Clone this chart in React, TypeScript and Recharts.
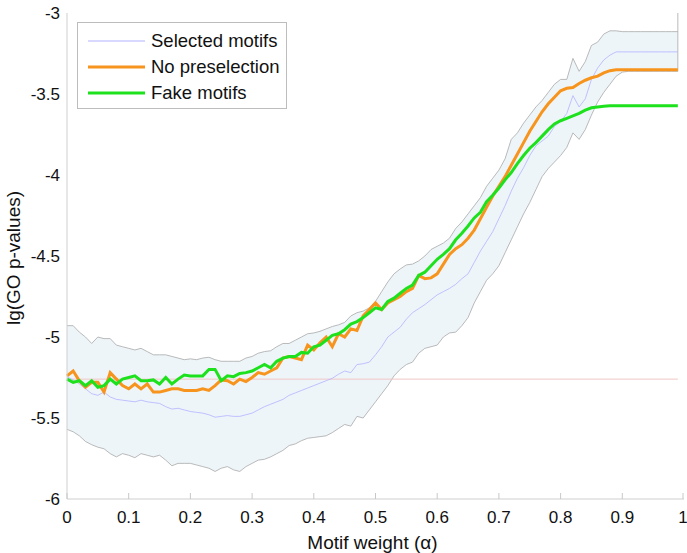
import React from "react";
import {
  ComposedChart,
  Area,
  Line,
  XAxis,
  YAxis,
  ReferenceLine,
  Legend,
  Label,
} from "recharts";

// motif weight alpha, 0.00 .. 0.99
const alpha = [
  0, 0.01, 0.02, 0.03, 0.04, 0.05, 0.06, 0.07, 0.08, 0.09,
  0.1, 0.11, 0.12, 0.13, 0.14, 0.15, 0.16, 0.17, 0.18, 0.19,
  0.2, 0.21, 0.22, 0.23, 0.24, 0.25, 0.26, 0.27, 0.28, 0.29,
  0.3, 0.31, 0.32, 0.33, 0.34, 0.35, 0.36, 0.37, 0.38, 0.39,
  0.4, 0.41, 0.42, 0.43, 0.44, 0.45, 0.46, 0.47, 0.48, 0.49,
  0.5, 0.51, 0.52, 0.53, 0.54, 0.55, 0.56, 0.57, 0.58, 0.59,
  0.6, 0.61, 0.62, 0.63, 0.64, 0.65, 0.66, 0.67, 0.68, 0.69,
  0.7, 0.71, 0.72, 0.73, 0.74, 0.75, 0.76, 0.77, 0.78, 0.79,
  0.8, 0.81, 0.82, 0.83, 0.84, 0.85, 0.86, 0.87, 0.88, 0.89,
  0.9, 0.91, 0.92, 0.93, 0.94, 0.95, 0.96, 0.97, 0.98, 0.99,
];

// selected motifs: upper / lower envelope and mean
const upper = [
  -4.93, -4.93, -4.97, -5.0, -5.04, -5.0, -5.01, -5.01, -5.05, -5.06,
  -5.07, -5.08, -5.07, -5.09, -5.11, -5.11, -5.11, -5.12, -5.13, -5.14,
  -5.135, -5.14, -5.13, -5.125, -5.14, -5.15, -5.15, -5.15, -5.15, -5.13,
  -5.12, -5.1, -5.09, -5.085, -5.06, -5.04, -5.04, -5.02, -5.0, -4.98,
  -4.975, -4.965, -4.95, -4.935, -4.925, -4.91, -4.87, -4.85, -4.84, -4.82,
  -4.78, -4.72, -4.66, -4.61, -4.58, -4.555, -4.55, -4.53, -4.5, -4.46,
  -4.44, -4.42, -4.39, -4.33, -4.29, -4.24, -4.19, -4.14, -4.07, -4.02,
  -3.97, -3.9, -3.78, -3.74, -3.68, -3.63, -3.58, -3.54, -3.49, -3.44,
  -3.41, -3.41, -3.28, -3.36, -3.3, -3.2, -3.18, -3.13, -3.11, -3.11,
  -3.115, -3.115, -3.115, -3.115, -3.115, -3.115, -3.115, -3.115, -3.115, -3.115,
];

const lower = [
  -5.57, -5.585, -5.61, -5.645, -5.665, -5.68, -5.69, -5.72, -5.74, -5.72,
  -5.73, -5.745, -5.72, -5.73, -5.74, -5.73, -5.76, -5.795, -5.78, -5.78,
  -5.78, -5.79, -5.8, -5.81, -5.83, -5.81, -5.8, -5.82, -5.83, -5.8,
  -5.78, -5.76, -5.755, -5.74, -5.72, -5.7, -5.67, -5.66, -5.64, -5.625,
  -5.62, -5.615, -5.61, -5.59, -5.565, -5.54, -5.55, -5.49, -5.5, -5.45,
  -5.4, -5.35, -5.3, -5.24, -5.2, -5.17, -5.155, -5.1, -5.07, -5.06,
  -5.05, -5.0, -4.975, -4.97, -4.93, -4.88, -4.79, -4.72, -4.65, -4.61,
  -4.56, -4.48, -4.4, -4.32, -4.24, -4.17, -4.09, -4.01, -3.96, -3.92,
  -3.88, -3.83, -3.74, -3.78, -3.72, -3.63, -3.55, -3.49, -3.44, -3.39,
  -3.365, -3.36, -3.36, -3.36, -3.36, -3.36, -3.36, -3.36, -3.36, -3.36,
];

const selected = [
  -5.245, -5.265, -5.29, -5.32, -5.35, -5.36, -5.34, -5.37, -5.385, -5.39,
  -5.395, -5.4, -5.39, -5.4, -5.405, -5.41, -5.43, -5.445, -5.44, -5.45,
  -5.46, -5.465, -5.47, -5.48, -5.495, -5.49, -5.485, -5.49, -5.49, -5.48,
  -5.47, -5.45, -5.43, -5.415, -5.4, -5.385, -5.36, -5.345, -5.33, -5.315,
  -5.3, -5.285, -5.27, -5.255, -5.23, -5.21, -5.22, -5.17, -5.165, -5.155,
  -5.11, -5.06, -5.0, -4.97, -4.94, -4.89, -4.85, -4.825, -4.8, -4.77,
  -4.74, -4.72, -4.7, -4.675, -4.64, -4.61, -4.54, -4.47, -4.41, -4.35,
  -4.27, -4.19, -4.1, -4.02, -3.955, -3.88, -3.82, -3.79, -3.76, -3.7,
  -3.67, -3.62, -3.51, -3.58, -3.53, -3.41, -3.34, -3.29, -3.26, -3.24,
  -3.24, -3.24, -3.24, -3.24, -3.24, -3.24, -3.24, -3.24, -3.24, -3.24,
];

const noPreselection = [
  -5.24, -5.21, -5.27, -5.31, -5.28, -5.28, -5.34, -5.22, -5.26, -5.3,
  -5.32, -5.29, -5.32, -5.29, -5.34, -5.34, -5.33, -5.32, -5.32, -5.33,
  -5.33, -5.33, -5.32, -5.33, -5.3, -5.265, -5.27, -5.29, -5.26, -5.275,
  -5.25, -5.22, -5.23, -5.21, -5.19, -5.13, -5.12, -5.13, -5.14, -5.05,
  -5.08, -5.035, -5.0, -5.06, -4.98, -5.0, -4.95, -4.96, -4.87, -4.83,
  -4.79, -4.83, -4.79, -4.77, -4.75, -4.72, -4.7, -4.62, -4.64, -4.635,
  -4.61, -4.55, -4.49, -4.455, -4.43, -4.39, -4.34, -4.27, -4.2, -4.13,
  -4.07, -4.01, -3.94, -3.87, -3.8, -3.73, -3.67, -3.61, -3.56, -3.52,
  -3.48, -3.465, -3.46, -3.435, -3.415, -3.4, -3.39, -3.37, -3.356, -3.35,
  -3.35, -3.35, -3.35, -3.35, -3.35, -3.35, -3.35, -3.35, -3.35, -3.35,
];

const fakeMotifs = [
  -5.26, -5.28, -5.27, -5.3, -5.27, -5.31, -5.3, -5.26, -5.29, -5.26,
  -5.25, -5.24, -5.27, -5.27, -5.265, -5.29, -5.25, -5.29, -5.26, -5.235,
  -5.24, -5.24, -5.24, -5.2, -5.2, -5.27, -5.24, -5.245, -5.225, -5.22,
  -5.21, -5.19, -5.17, -5.19, -5.15, -5.13, -5.12, -5.12, -5.095, -5.1,
  -5.06, -5.05, -5.02, -4.99, -4.98, -4.955, -4.92, -4.905, -4.88, -4.85,
  -4.82, -4.83, -4.78, -4.76, -4.73, -4.7, -4.68, -4.62, -4.6, -4.56,
  -4.52, -4.49, -4.455, -4.4, -4.36, -4.315, -4.265, -4.23, -4.165, -4.125,
  -4.08, -4.03, -3.985, -3.93, -3.88, -3.835, -3.8, -3.76, -3.72, -3.685,
  -3.665, -3.65, -3.635, -3.62, -3.6, -3.585, -3.58, -3.575, -3.572, -3.572,
  -3.572, -3.572, -3.572, -3.572, -3.572, -3.572, -3.572, -3.572, -3.572, -3.572,
];

const baselineLevel = -5.26;

const xTicks = [0, 0.1, 0.2, 0.3, 0.4, 0.5, 0.6, 0.7, 0.8, 0.9, 1];
const xTickLabels = ["0", "0.1", "0.2", "0.3", "0.4", "0.5", "0.6", "0.7", "0.8", "0.9", "1"];
const yTicks = [-6, -5.5, -5, -4.5, -4, -3.5, -3];
const yTickLabels = ["-6", "-5.5", "-5", "-4.5", "-4", "-3.5", "-3"];

const legendNames = ["Selected motifs", "No preselection", "Fake motifs"];
const legendColors = ["#b3b3ff", "#f7941d", "#1ee11e"];
const legendWidths = [1, 3, 3];

const FONT = "'Liberation Sans', Arial, Helvetica, sans-serif";

const data = alpha.map((a, i) => ({
  alpha: a,
  band: [lower[i], upper[i]],
  selected: selected[i],
  noPre: noPreselection[i],
  fake: fakeMotifs[i],
}));

const XTick = (props: any) => {
  const { x, y, payload } = props;
  const idx = xTicks.indexOf(payload.value);
  return (
    <g>
      <line x1={x} y1={y} x2={x} y2={y - 6} stroke="#c8c8c8" />
      <text x={x} y={y + 12} dy="0.71em" textAnchor="middle" fontSize={17} fontFamily={FONT} fill="#111">
        {xTickLabels[idx]}
      </text>
    </g>
  );
};

const YTick = (props: any) => {
  const { x, y, payload } = props;
  const idx = yTicks.indexOf(payload.value);
  return (
    <text x={x - 7} y={y} dominantBaseline="central" textAnchor="end" fontSize={17} fontFamily={FONT} fill="#111">
      {yTickLabels[idx]}
    </text>
  );
};

const renderLegend = () => (
  <div
    style={{
      border: "1px solid #bdbdbd",
      background: "#fff",
      width: 210,
      height: 87,
      paddingTop: 5,
      paddingLeft: 10,
      boxSizing: "border-box",
      fontFamily: FONT,
      fontSize: 18.5,
      color: "#111",
      whiteSpace: "nowrap",
    }}
  >
    {legendNames.map((name, i) => (
      <div key={name} style={{ display: "flex", alignItems: "center", height: 26 }}>
        <svg width={57} height={6} style={{ marginRight: 6, flexShrink: 0 }}>
          <line x1={0} y1={3} x2={57} y2={3} stroke={legendColors[i]} strokeWidth={legendWidths[i]} />
        </svg>
        <span>{name}</span>
      </div>
    ))}
  </div>
);

const App = () => {
  return (
    <div style={{ position: "absolute", left: 0, top: 0, background: "#fff" }}>
      <ComposedChart
        width={687}
        height={553}
        data={data}
        margin={{ top: 13, right: 3, bottom: 0, left: 0 }}
      >
        <XAxis
          dataKey="alpha"
          type="number"
          domain={[0, 1]}
          ticks={xTicks}
          height={54}
          tickSize={0}
          tickMargin={0}
          tick={<XTick />}
          axisLine={{ stroke: "#cfcfcf" }}
          tickLine={false}
        >
          <Label
            content={({ viewBox }: any) => (
              <text
                x={viewBox.x + viewBox.width / 2 - 3}
                y={viewBox.y + 43}
                textAnchor="middle"
                dominantBaseline="central"
                fontSize={19}
                fontFamily={FONT}
                fill="#111"
              >
                Motif weight (α)
              </text>
            )}
          />
        </XAxis>
        <YAxis
          type="number"
          domain={[-6, -3]}
          ticks={yTicks}
          width={67}
          tickSize={0}
          tickMargin={0}
          tick={<YTick />}
          axisLine={{ stroke: "#cfcfcf" }}
          tickLine={false}
        >
          <Label
            content={({ viewBox }: any) => {
              const cx = 13;
              const cy = viewBox.y + viewBox.height / 2 + 2;
              return (
                <text
                  x={cx}
                  y={cy}
                  transform={`rotate(-90, ${cx}, ${cy})`}
                  textAnchor="middle"
                  dominantBaseline="central"
                  fontSize={19}
                  fontFamily={FONT}
                  fill="#111"
                >
                  lg(GO p-values)
                </text>
              );
            }}
          />
        </YAxis>
        <Area
          dataKey="band"
          type="linear"
          stroke="#a8a8a8"
          strokeWidth={0.8}
          fill="#eef5f9"
          fillOpacity={1}
          isAnimationActive={false}
        />
        <ReferenceLine
          segment={[
            { x: 0.99, y: -3 },
            { x: 0.99, y: lower[lower.length - 1] },
          ]}
          stroke="#a8a8a8"
          strokeWidth={0.8}
        />
        <ReferenceLine
          segment={[
            { x: 0, y: baselineLevel },
            { x: 0.99, y: baselineLevel },
          ]}
          stroke="#f2c6c6"
          strokeWidth={1}
        />
        <Line
          dataKey="selected"
          type="linear"
          stroke={legendColors[0]}
          strokeWidth={0.8}
          dot={false}
          isAnimationActive={false}
        />
        <Line
          dataKey="noPre"
          type="linear"
          stroke={legendColors[1]}
          strokeWidth={3}
          dot={false}
          isAnimationActive={false}
        />
        <Line
          dataKey="fake"
          type="linear"
          stroke={legendColors[2]}
          strokeWidth={3}
          dot={false}
          isAnimationActive={false}
        />
        <Legend
          layout="vertical"
          align="center"
          verticalAlign="middle"
          content={renderLegend}
          wrapperStyle={{ left: 77, top: 22, width: 210 }}
        />
      </ComposedChart>
    </div>
  );
};

export default App;
